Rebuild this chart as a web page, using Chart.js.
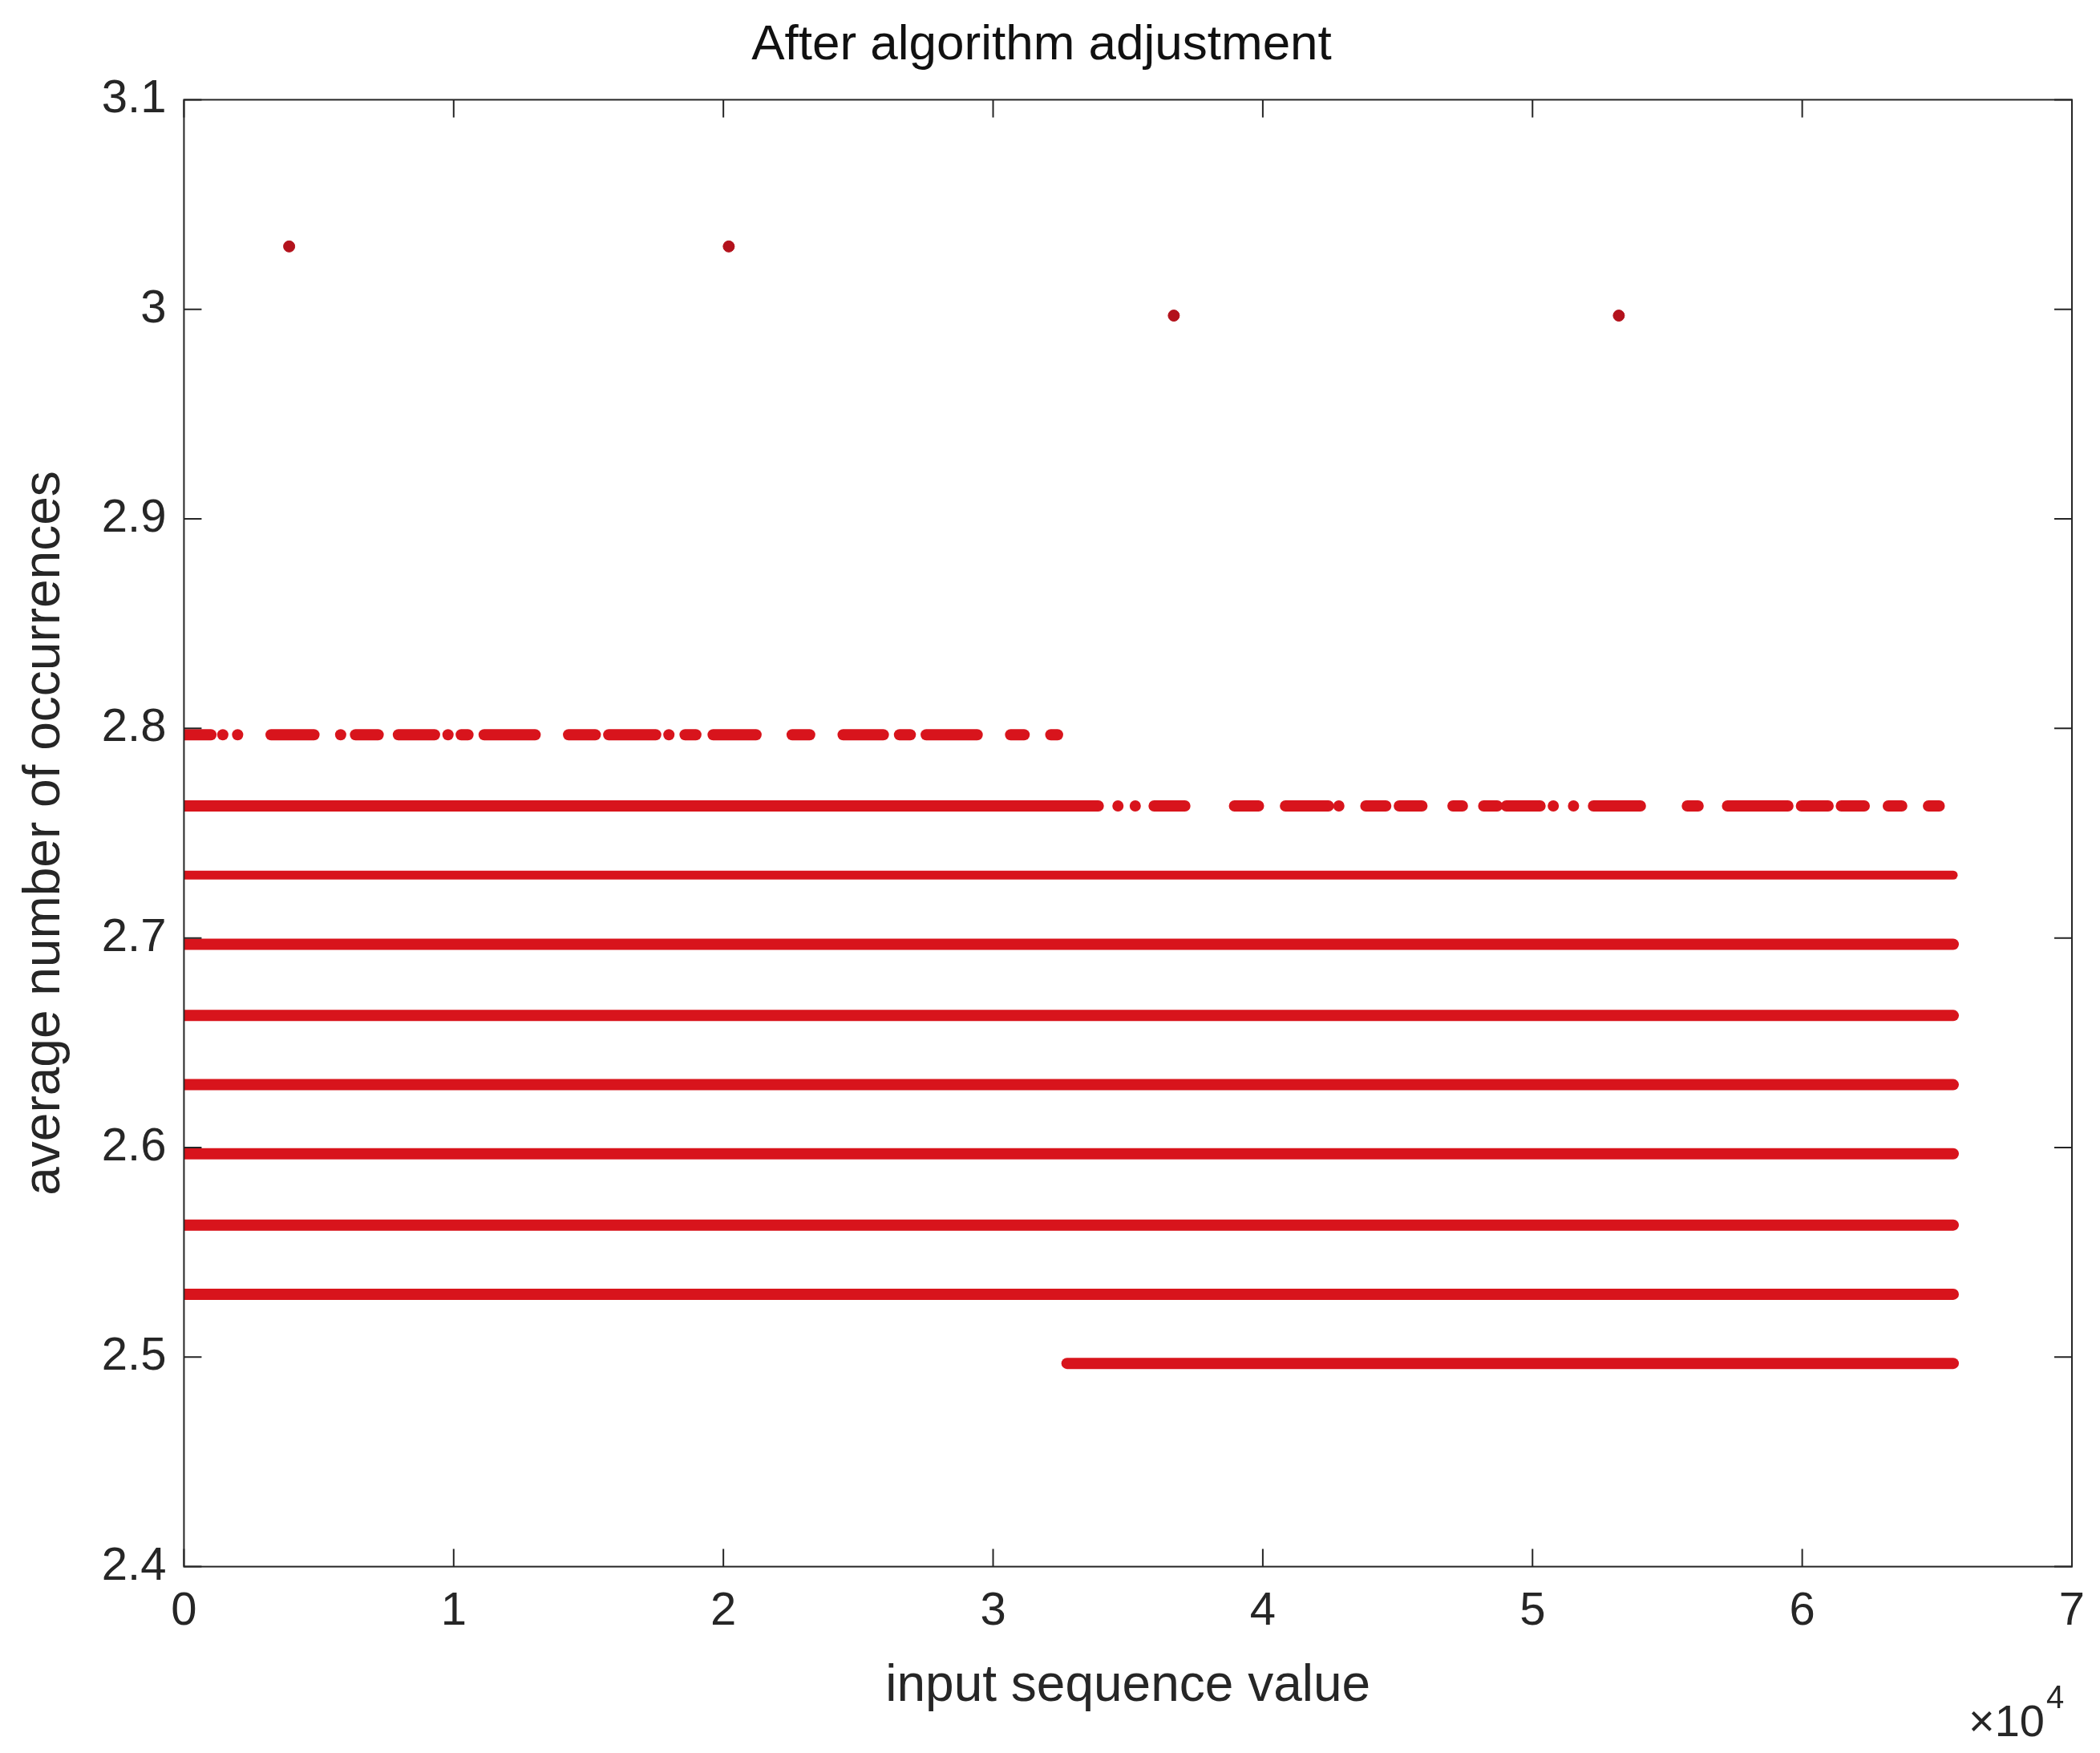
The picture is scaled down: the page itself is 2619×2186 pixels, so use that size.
<!DOCTYPE html>
<html>
<head>
<meta charset="utf-8">
<script src="https://cdn.jsdelivr.net/npm/chart.js@4"></script>
<style>
  html, body { margin: 0; padding: 0; background: #fff; }
  #wrap { width: 2619px; height: 2186px; }
</style>
</head>
<body>
<div id="wrap"><canvas id="c"></canvas></div>
<script>
// y levels of the dense rows (avg. number of occurrences)
const levels = [2.497, 2.530, 2.563, 2.597, 2.630, 2.663, 2.697, 2.730, 2.763, 2.797];
// filled x-ranges per level
const runs = {
  2.497: [[32740, 65600]],
  2.530: [[0, 65600]],
  2.563: [[0, 65600]],
  2.597: [[0, 65600]],
  2.630: [[0, 65600]],
  2.663: [[0, 65600]],
  2.697: [[0, 65600]],
  2.730: [[0, 65600]],
  2.763: [[0, 33900], [34630, 34630], [35270, 35270], [35970, 37110], [38950, 39840], [40840, 42430],
          [42820, 42820], [43820, 44560], [45060, 45900], [47050, 47400], [48190, 48690], [49030, 50280],
          [50770, 50770], [51520, 51520], [52260, 54000], [55740, 56140], [57230, 59470], [59970, 60960],
          [61450, 62300], [63190, 63690], [64680, 65080]],
  2.797: [[0, 1000], [1440, 1440], [1990, 1990], [3230, 4820], [5810, 5810], [6360, 7200], [7950, 9290],
          [9790, 9790], [10280, 10530], [11130, 13020], [14260, 15250], [15750, 17490], [17980, 17980],
          [18580, 18980], [19620, 21210], [22550, 23200], [24440, 25930], [26530, 26930], [27520, 29410],
          [30650, 31150], [32140, 32390]],
};
// isolated outliers
const outX = [3900, 20200, 36700, 53200];
const outY = [3.03, 3.03, 2.997, 2.997];

const yTicks = [2.4, 2.5, 2.6, 2.7, 2.8, 2.9, 3.0, 3.1];
const xTicks = [0, 10000, 20000, 30000, 40000, 50000, 60000, 70000];

const red = '#d8141c';
const datasets = [];
levels.forEach(lv => {
  runs[lv].forEach(([a, b]) => {
    datasets.push({
      type: 'line',
      data: [{ x: a, y: lv }, { x: b, y: lv }],
      borderColor: red, backgroundColor: red,
      borderWidth: lv === 2.73 ? 11 : 14, borderCapStyle: 'round',
      pointRadius: 0, showLine: true,
    });
  });
});
datasets.push({
  type: 'scatter',
  data: outX.map((x, i) => ({ x, y: outY[i] })),
  backgroundColor: '#b3121c', borderColor: '#b3121c', pointRadius: 7,
});

const frame = {
  id: 'frame',
  afterDraw(chart) {
    const { ctx, chartArea: a, scales: { x, y } } = chart;
    ctx.save();
    ctx.strokeStyle = '#262626'; ctx.lineWidth = 2;
    ctx.strokeRect(a.left, a.top, a.right - a.left, a.bottom - a.top);
    ctx.beginPath();
    xTicks.forEach(v => {
      const p = x.getPixelForValue(v);
      ctx.moveTo(p, a.bottom); ctx.lineTo(p, a.bottom - 22);
      ctx.moveTo(p, a.top); ctx.lineTo(p, a.top + 22);
    });
    yTicks.forEach(v => {
      const p = y.getPixelForValue(v);
      ctx.moveTo(a.left, p); ctx.lineTo(a.left + 22, p);
      ctx.moveTo(a.right, p); ctx.lineTo(a.right - 22, p);
    });
    ctx.stroke();
    ctx.fillStyle = '#262626';
    ctx.font = '56px "Liberation Sans", Arial, sans-serif';
    ctx.textAlign = 'right'; ctx.textBaseline = 'alphabetic';
    ctx.fillText('\u00d710', a.right - 34, 2165);
    ctx.font = '40px "Liberation Sans", Arial, sans-serif';
    ctx.textAlign = 'left';
    ctx.fillText('4', a.right - 32, 2130);
    ctx.restore();
  }
};

new Chart(document.getElementById('c'), {
  data: { datasets },
  options: {
    responsive: true, maintainAspectRatio: false, animation: false,
    layout: { padding: { left: 14, right: 35, top: 20, bottom: 40 } },
    plugins: {
      legend: { display: false }, tooltip: { enabled: false },
      title: { display: true, text: 'After algorithm adjustment', color: '#111',
               font: { family: 'Liberation Sans', size: 62, weight: 'normal' }, padding: { top: 0, bottom: 30 } },
    },
    scales: {
      x: {
        type: 'linear', min: 0, max: 70000,
        afterBuildTicks: s => { s.ticks = xTicks.map(v => ({ value: v })); },
        ticks: { color: '#262626', font: { family: 'Liberation Sans', size: 58 }, padding: 14,
                 callback: v => String(v / 10000) },
        grid: { display: false }, border: { display: false },
        title: { display: true, text: 'input sequence value', color: '#262626',
                 font: { family: 'Liberation Sans', size: 64 }, padding: { top: 6 } },
      },
      y: {
        type: 'linear', min: 2.4, max: 3.1,
        afterBuildTicks: s => { s.ticks = yTicks.map(v => ({ value: v })); },
        ticks: { color: '#262626', font: { family: 'Liberation Sans', size: 58 }, padding: 14,
                 callback: v => String(Math.round(v * 10) / 10) },
        grid: { display: false }, border: { display: false },
        title: { display: true, text: 'average number of occurrences', color: '#262626',
                 font: { family: 'Liberation Sans', size: 64 }, padding: { bottom: 18 } },
      },
    },
  },
  plugins: [frame],
});
</script>
</body>
</html>
